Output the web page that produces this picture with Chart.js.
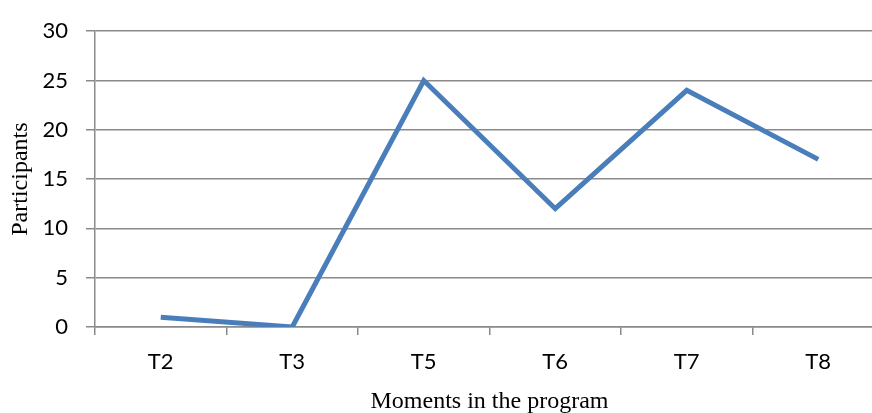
<!DOCTYPE html>
<html>
<head>
<meta charset="utf-8">
<script src="https://cdn.jsdelivr.net/npm/chart.js@4"></script>
<style>
  html, body { margin: 0; padding: 0; background: #fff; overflow: hidden; }
  #wrap { width: 884px; height: 416px; }
</style>
</head>
<body>
<div id="wrap"><canvas id="chart" width="884" height="416"></canvas></div>
<script>
const moments = ['T2', 'T3', 'T5', 'T6', 'T7', 'T8'];
const participants = [1, 0, 25, 12, 24, 17];

const gridColor = '#8a8a8a';

new Chart(document.getElementById('chart'), {
    type: 'line',
    data: {
        labels: moments,
        datasets: [{
            label: 'Participants',
            data: participants,
            borderColor: '#4a7ebb',
            borderWidth: 5,
            tension: 0,
            fill: false,
            pointRadius: 0,
            borderJoinStyle: 'miter'
        }]
    },
    options: {
        responsive: false,
        animation: false,
        layout: { padding: { top: 28, right: 0, bottom: 0, left: 0 } },
        plugins: {
            legend: { display: false },
            tooltip: { enabled: false }
        },
        scales: {
            x: {
                offset: true,
                afterFit: (s) => { s.height = 89; },
                grid: {
                    offset: true,
                    drawOnChartArea: false,
                    drawTicks: true,
                    tickLength: 8,
                    color: gridColor,
                    lineWidth: 1.5
                },
                border: { color: gridColor, width: 1.5 },
                ticks: {
                    color: '#000',
                    padding: 14,
                    font: { family: 'Lato', size: 22 }
                },
                title: {
                    display: true,
                    text: 'Moments in the program',
                    color: '#000',
                    padding: { top: 0, bottom: 0 },
                    font: { family: 'Liberation Serif', size: 24 }
                }
            },
            y: {
                min: 0,
                max: 30,
                afterFit: (s) => { s.width = 95; },
                grid: {
                    color: gridColor,
                    lineWidth: 1.5,
                    tickLength: 9
                },
                border: { color: gridColor, width: 1.5 },
                ticks: {
                    stepSize: 5,
                    color: '#000',
                    padding: 18,
                    font: { family: 'Lato', size: 22 }
                },
                title: {
                    display: true,
                    text: 'Participants',
                    color: '#000',
                    padding: { top: 6, bottom: 0 },
                    font: { family: 'Liberation Serif', size: 24 }
                }
            }
        }
    }
});
</script>
</body>
</html>
